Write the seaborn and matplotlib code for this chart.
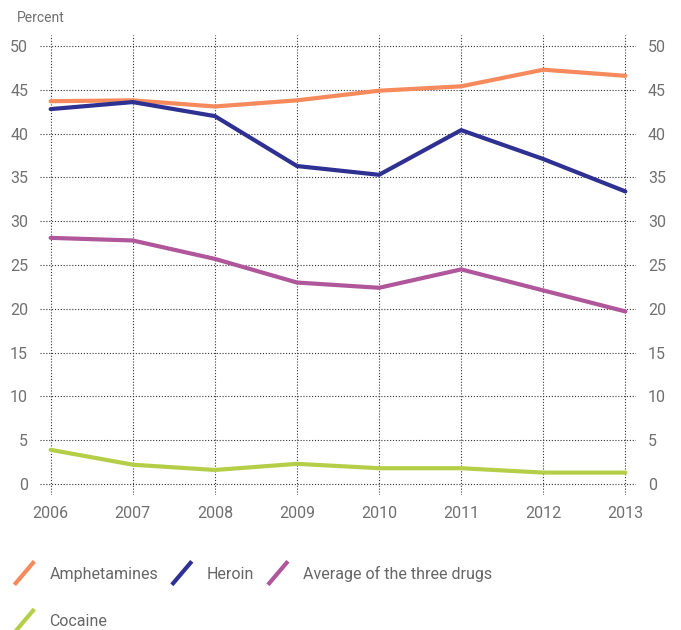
import pandas as pd
import seaborn as sns
import matplotlib.pyplot as plt
from matplotlib.lines import Line2D
from matplotlib.legend_handler import HandlerLine2D

years = [2006, 2007, 2008, 2009, 2010, 2011, 2012, 2013]
amphetamines = [43.7, 43.8, 43.1, 43.8, 44.9, 45.4, 47.3, 46.6]
heroin = [42.8, 43.6, 42.0, 36.3, 35.3, 40.4, 37.1, 33.4]
average = [28.1, 27.8, 25.7, 23.0, 22.4, 24.5, 22.1, 19.7]
cocaine = [3.9, 2.2, 1.6, 2.3, 1.8, 1.8, 1.3, 1.3]

series_names = ['Amphetamines', 'Heroin', 'Average of the three drugs', 'Cocaine']
colors = ['#F68A5D', '#2E3192', '#B0579C', '#B5CE48']
y_ticks = [0, 5, 10, 15, 20, 25, 30, 35, 40, 45, 50]

rows = []
for name, vals in zip(series_names, [amphetamines, heroin, average, cocaine]):
    for yr, v in zip(years, vals):
        rows.append([yr, v, name])
df = pd.DataFrame(rows, columns=['Year', 'Percent', 'Series'])

sns.set_style('white')
plt.rcParams['font.family'] = ['Roboto', 'DejaVu Sans']

fig = plt.figure(figsize=(6.81, 6.3), dpi=100)
ax = fig.add_axes([0.0587, 0.2137, 0.934 - 0.0587, 0.945 - 0.2137])

sns.lineplot(data=df, x='Year', y='Percent', hue='Series', hue_order=series_names,
             palette=colors, linewidth=3, ax=ax, legend=False)

ax.set_xlim(2005.87, 2013.13)
ax.set_ylim(-1.3, 51.3)
ax.set_xticks(years)
ax.set_xticklabels([str(y) for y in years])
ax.set_yticks(y_ticks)
ax.set_xlabel('')
ax.set_ylabel('')
for s in ax.spines.values():
    s.set_visible(False)

ax.grid(True, color='#333333', linestyle=(0, (1, 1.6)), linewidth=0.8)
ax.tick_params(axis='y', left=False, right=False, labelleft=True, labelright=True,
               labelsize=11.5, labelcolor='#707070', pad=5)
ax.tick_params(axis='x', bottom=False, labelsize=11.5, labelcolor='#707070', pad=4)

fig.text(0.025, 0.972, 'Percent', fontsize=10, color='#707070', va='center')


class DiagHandler(HandlerLine2D):
    def create_artists(self, legend, orig_handle, xdescent, ydescent, width, height, fontsize, trans):
        line = Line2D([-xdescent, -xdescent + width], [-ydescent - 0.55 * height, -ydescent + 1.55 * height],
                      color=orig_handle.get_color(), linewidth=3, solid_capstyle='butt')
        line.set_transform(trans)
        return [line]


handles = [Line2D([], [], color=c, linewidth=3) for c in colors]
order = [0, 3, 1, 2]
leg = fig.legend([handles[i] for i in order], [series_names[i] for i in order],
                 ncol=3, loc='upper left', bbox_to_anchor=(0.0, 0.125),
                 frameon=False, fontsize=11.5,
                 handlelength=1.25, handletextpad=0.95,
                 columnspacing=0.85, labelspacing=2.05,
                 handler_map={Line2D: DiagHandler()})
for t in leg.get_texts():
    t.set_color('#666666')

fig.savefig('out.png', dpi=100)
